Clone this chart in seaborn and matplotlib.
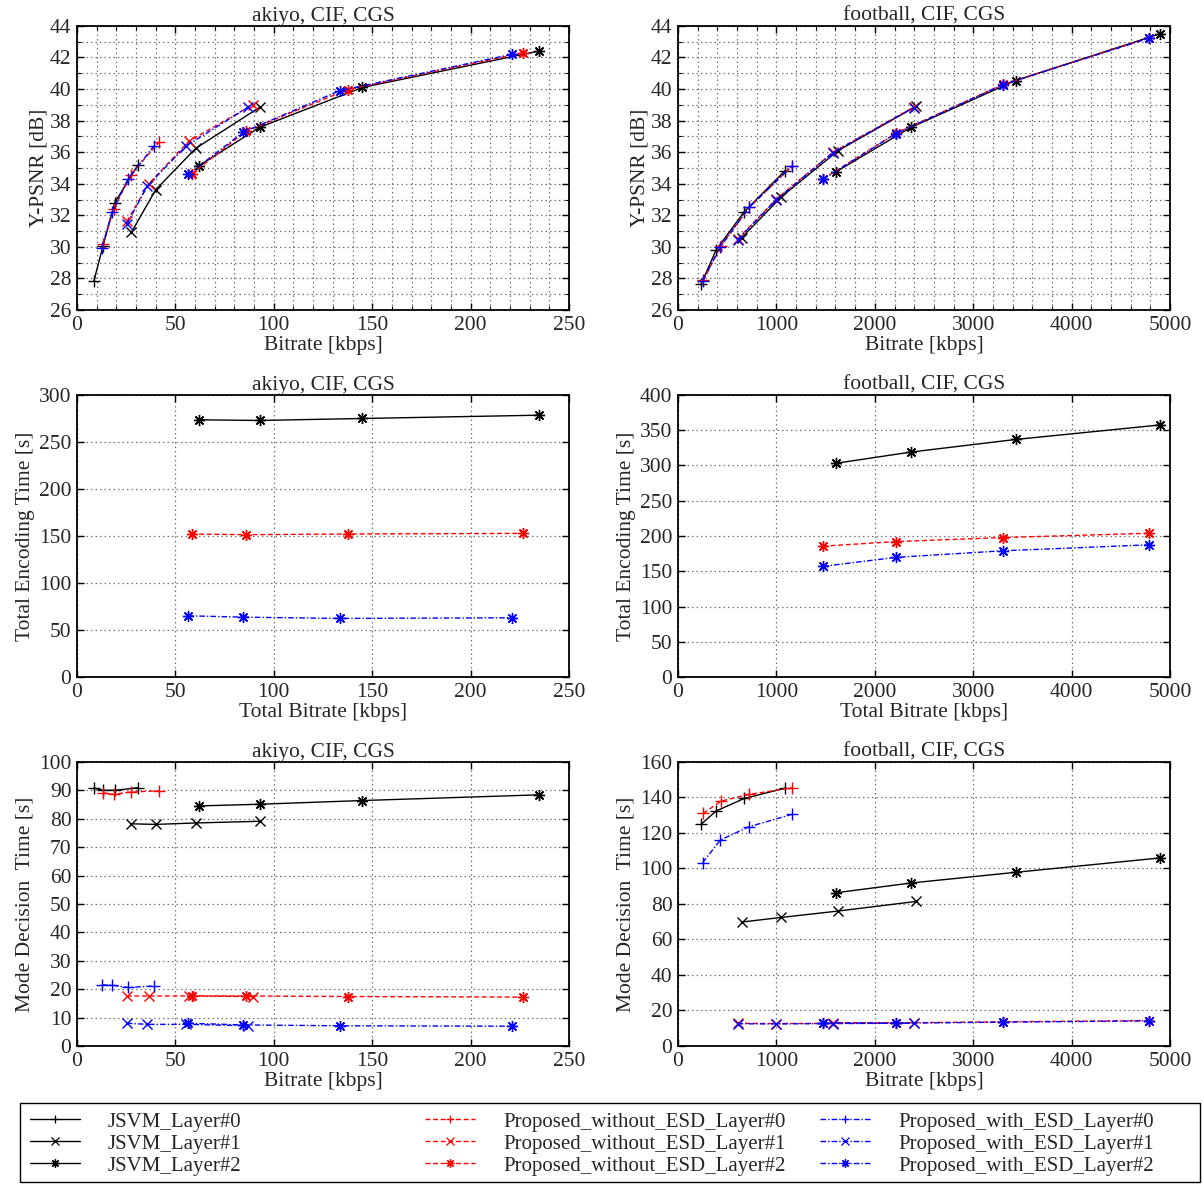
import numpy as np
import pandas as pd
import matplotlib
matplotlib.use("Agg")
import matplotlib.pyplot as plt
import seaborn as sns
from matplotlib.ticker import MultipleLocator
from matplotlib.lines import Line2D
from matplotlib.patches import Rectangle

sns.set_style("ticks")
plt.rcParams['font.family'] = ['Liberation Serif', 'DejaVu Serif']
plt.rcParams['mathtext.fontset'] = 'stix'
FS = 15.5
LFS = 15.0

# ---------------- akiyo data ----------------
ak_rate_jsvm_l0 = [8.6, 13.2, 19.2, 31.0]
ak_rate_jsvm_l1 = [27.6, 40.0, 60.3, 92.9]
ak_rate_jsvm_l2 = [62.0, 92.9, 145.0, 234.5]
ak_rate_nesd_l0 = [13.2, 18.6, 27.3, 41.5]
ak_rate_nesd_l1 = [25.3, 36.4, 56.8, 89.2]
ak_rate_nesd_l2 = [58.2, 85.7, 137.5, 226.5]
ak_rate_esd_l0 = [12.7, 17.8, 25.9, 39.2]
ak_rate_esd_l1 = [25.3, 35.8, 55.6, 87.0]
ak_rate_esd_l2 = [56.5, 84.4, 133.5, 221.0]

ak_psnr_jsvm_l0 = [27.84, 30.05, 32.8, 35.2]
ak_psnr_jsvm_l1 = [30.91, 33.62, 36.24, 38.85]
ak_psnr_jsvm_l2 = [35.14, 37.58, 40.1, 42.4]
ak_psnr_nesd_l0 = [30.17, 32.39, 34.57, 36.62]
ak_psnr_nesd_l1 = [31.61, 33.98, 36.69, 39.0]
ak_psnr_nesd_l2 = [34.61, 37.32, 39.97, 42.28]
ak_psnr_esd_l0 = [29.94, 32.18, 34.3, 36.41]
ak_psnr_esd_l1 = [31.44, 33.87, 36.41, 38.85]
ak_psnr_esd_l2 = [34.59, 37.26, 39.9, 42.2]

ak_enc_jsvm = [273.6, 272.9, 275.0, 278.5]
ak_enc_nesd = [152.1, 151.4, 152.1, 152.8]
ak_enc_esd = [65.1, 63.7, 62.3, 63.0]

ak_mdt_jsvm_l0 = [90.8, 90.0, 90.0, 90.9]
ak_mdt_jsvm_l1 = [78.2, 78.0, 78.5, 79.1]
ak_mdt_jsvm_l2 = [84.5, 85.1, 86.4, 88.4]
ak_mdt_nesd_l0 = [89.1, 88.6, 89.4, 89.8]
ak_mdt_nesd_l1 = [17.6, 17.6, 17.6, 17.4]
ak_mdt_nesd_l2 = [17.6, 17.6, 17.4, 17.2]
ak_mdt_esd_l0 = [21.5, 21.4, 20.6, 21.1]
ak_mdt_esd_l1 = [8.0, 7.6, 7.6, 7.1]
ak_mdt_esd_l2 = [8.0, 7.4, 7.1, 6.95]

# ---------------- football data ----------------
fb_rate_jsvm_l0 = [234, 386, 672, 1088]
fb_rate_jsvm_l1 = [649, 1051, 1628, 2421]
fb_rate_jsvm_l2 = [1607, 2370, 3430, 4898]
fb_rate_nesd_l0 = [257, 436, 723, 1162]
fb_rate_nesd_l1 = [605, 1000, 1574, 2394]
fb_rate_nesd_l2 = [1473, 2215, 3299, 4791]
fb_rate_esd_l0 = [250, 430, 723, 1155]
fb_rate_esd_l1 = [605, 1000, 1574, 2394]
fb_rate_esd_l2 = [1473, 2215, 3299, 4791]

fb_psnr_jsvm_l0 = [27.63, 29.79, 32.22, 34.83]
fb_psnr_jsvm_l1 = [30.59, 33.17, 36.1, 38.91]
fb_psnr_jsvm_l2 = [34.76, 37.58, 40.54, 43.5]
fb_psnr_nesd_l0 = [27.88, 30.06, 32.5, 35.14]
fb_psnr_nesd_l1 = [30.49, 33.03, 35.99, 38.85]
fb_psnr_nesd_l2 = [34.3, 37.2, 40.29, 43.25]
fb_psnr_esd_l0 = [27.84, 30.0, 32.5, 35.1]
fb_psnr_esd_l1 = [30.45, 33.0, 35.97, 38.83]
fb_psnr_esd_l2 = [34.28, 37.18, 40.27, 43.23]

fb_enc_jsvm = [303.2, 319.1, 336.9, 357.5]
fb_enc_nesd = [185.6, 192.1, 197.8, 203.9]
fb_enc_esd = [157.0, 169.7, 179.0, 187.5]

fb_mdt_jsvm_l0 = [124.8, 132.3, 139.4, 145.2]
fb_mdt_jsvm_l1 = [69.8, 72.4, 76.0, 81.4]
fb_mdt_jsvm_l2 = [86.3, 91.8, 97.8, 105.9]
fb_mdt_nesd_l0 = [131.0, 137.9, 141.7, 145.4]
fb_mdt_nesd_l1 = [12.8, 12.6, 12.8, 13.0]
fb_mdt_nesd_l2 = [13.2, 13.0, 13.6, 14.3]
fb_mdt_esd_l0 = [103.2, 116.0, 123.5, 130.4]
fb_mdt_esd_l1 = [12.5, 12.4, 12.6, 12.8]
fb_mdt_esd_l2 = [13.0, 12.8, 13.4, 14.1]

methods = ['jsvm', 'nesd', 'esd']
method_names = {'jsvm': 'JSVM', 'nesd': 'Proposed_without_ESD', 'esd': 'Proposed_with_ESD'}

AST = (8, 2, 0)
styles = {
    'jsvm': dict(color='black', linestyle='-'),
    'nesd': dict(color='red', linestyle=(0, (3.5, 2.0))),
    'esd': dict(color='blue', linestyle=(0, (4.0, 1.5, 1.0, 1.5))),
}
markers = {0: '+', 1: 'x', 2: AST}
msizes = {0: 8, 1: 7, 2: 8}

G = globals()


def draw(ax, x, y, method, layer):
    st = styles[method]
    sns.lineplot(x=list(x), y=list(y), ax=ax, sort=False, estimator=None,
                 color=st['color'], linestyle=st['linestyle'], linewidth=1.0,
                 marker=markers[layer], markersize=msizes[layer],
                 markeredgecolor=st['color'], markeredgewidth=1.0, legend=False)


def style_axes(ax, xlim, xmaj, ylim, ymaj, xminor=None, yminor=None):
    ax.set_xlim(*xlim)
    ax.set_ylim(*ylim)
    ax.xaxis.set_major_locator(MultipleLocator(xmaj))
    ax.yaxis.set_major_locator(MultipleLocator(ymaj))
    gkw = dict(color='0.45', linestyle=(0, (1.2, 2.4)), linewidth=0.9)
    if xminor:
        ax.xaxis.set_minor_locator(MultipleLocator(xminor))
        ax.grid(True, which='both', axis='x', **gkw)
    else:
        ax.grid(True, which='major', axis='x', **gkw)
    if yminor:
        ax.yaxis.set_minor_locator(MultipleLocator(yminor))
        ax.grid(True, which='both', axis='y', **gkw)
    else:
        ax.grid(True, which='major', axis='y', **gkw)
    ax.tick_params(which='both', direction='in', top=True, right=True,
                   labelsize=FS, color='black', pad=4)
    ax.tick_params(which='major', length=5, width=1)
    ax.tick_params(which='minor', length=3, width=0.8)
    for sp in ax.spines.values():
        sp.set_linewidth(1.3)
        sp.set_color('black')
    ax.set_axisbelow(True)


fig = plt.figure(figsize=(12.03, 11.84), dpi=100)
colx = [0.064, 0.5636]
W = 0.409
rowy = [(0.7382, 0.2399), (0.4282, 0.2382), (0.1166, 0.2399)]

for ci, seq in enumerate(['ak', 'fb']):
    title = 'akiyo, CIF, CGS' if seq == 'ak' else 'football, CIF, CGS'
    xlim = (0, 250) if seq == 'ak' else (0, 5000)
    xmaj = 50 if seq == 'ak' else 1000
    xmin = 10 if seq == 'ak' else 200

    # --- PSNR ---
    ax = fig.add_axes([colx[ci], rowy[0][0], W, rowy[0][1]])
    for m in methods:
        for L in range(3):
            draw(ax, G[f'{seq}_rate_{m}_l{L}'], G[f'{seq}_psnr_{m}_l{L}'], m, L)
    style_axes(ax, xlim, xmaj, (26, 44), 2, xminor=xmin, yminor=1)
    ax.set_title(title, fontsize=FS, pad=3)
    ax.set_xlabel('Bitrate [kbps]', fontsize=FS, labelpad=1)
    ax.set_ylabel('Y-PSNR [dB]', fontsize=FS, labelpad=1)

    # --- Encoding time ---
    ax = fig.add_axes([colx[ci], rowy[1][0], W, rowy[1][1]])
    for m in methods:
        draw(ax, G[f'{seq}_rate_{m}_l2'], G[f'{seq}_enc_{m}'], m, 2)
    if seq == 'ak':
        style_axes(ax, xlim, xmaj, (0, 300), 50)
    else:
        style_axes(ax, xlim, xmaj, (0, 400), 50)
    ax.set_title(title, fontsize=FS, pad=3)
    ax.set_xlabel('Total Bitrate [kbps]', fontsize=FS, labelpad=1)
    ax.set_ylabel('Total Encoding Time [s]', fontsize=FS, labelpad=3)

    # --- Mode decision time ---
    ax = fig.add_axes([colx[ci], rowy[2][0], W, rowy[2][1]])
    for m in methods:
        for L in range(3):
            draw(ax, G[f'{seq}_rate_{m}_l{L}'], G[f'{seq}_mdt_{m}_l{L}'], m, L)
    if seq == 'ak':
        style_axes(ax, xlim, xmaj, (0, 100), 10)
    else:
        style_axes(ax, xlim, xmaj, (0, 160), 20)
    ax.set_title(title, fontsize=FS, pad=3)
    ax.set_xlabel('Bitrate [kbps]', fontsize=FS, labelpad=1)
    ax.set_ylabel('Mode Decision  Time [s]', fontsize=FS, labelpad=3)

# legend: frame + three columns
fig.add_artist(Rectangle((20 / 1203, 1 - 1182 / 1184), 1180 / 1203, 79 / 1184,
                         transform=fig.transFigure, facecolor='white',
                         edgecolor='black', linewidth=1.0))
col_px = [30, 425, 820]
for ci, m in enumerate(methods):
    st = styles[m]
    hs, ls = [], []
    for L in range(3):
        hs.append(Line2D([], [], color=st['color'], linestyle=st['linestyle'],
                         linewidth=1.0, marker=markers[L], markersize=6,
                         markeredgecolor=st['color'], markeredgewidth=0.9))
        ls.append(f'{method_names[m]}_Layer#{L}')
    fig.legend(hs, ls, loc='upper left',
               bbox_to_anchor=(col_px[ci] / 1203, 1 - 1112 / 1184),
               ncol=1, frameon=False, fontsize=LFS, handlelength=2.4,
               handletextpad=1.35, borderaxespad=0, borderpad=0,
               labelspacing=0.12)

fig.savefig('out.png', dpi=100)
